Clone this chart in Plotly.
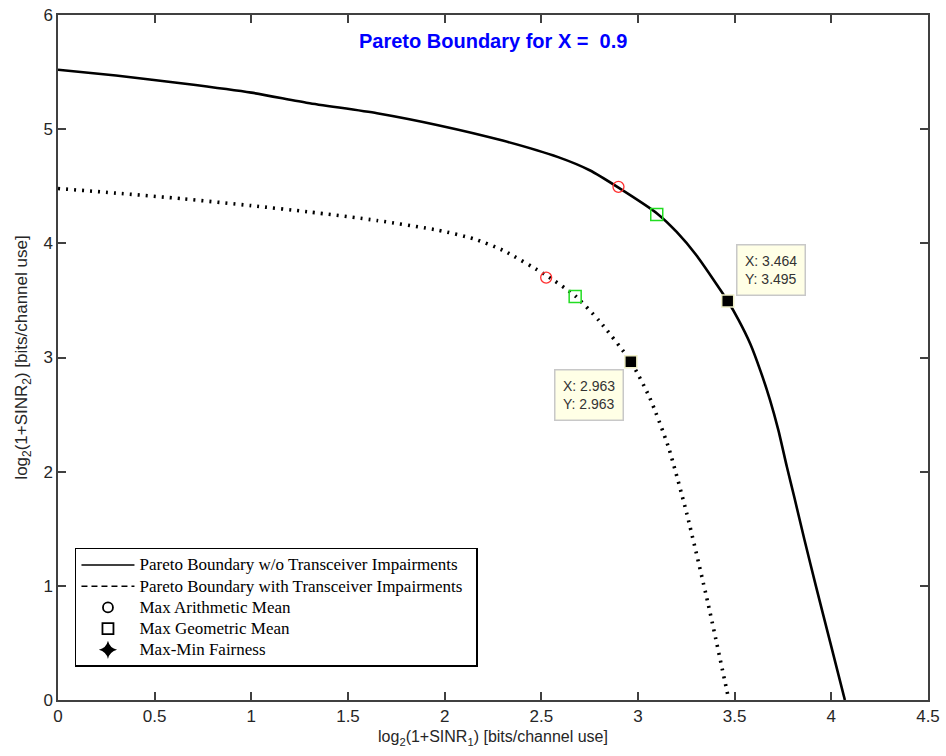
import plotly.graph_objects as go

# ---- data ----
ideal_x = [0.0, 0.3, 0.647, 1.0, 1.293, 1.65, 1.966, 2.3, 2.587, 2.75, 2.897, 3.10, 3.20, 3.30,
           3.464, 3.52, 3.58, 3.632, 3.683, 3.726, 3.77, 3.808, 3.86, 3.92, 3.995, 4.07]
ideal_y = [5.52, 5.47, 5.40, 5.32, 5.23, 5.14, 5.035, 4.90, 4.755, 4.64, 4.49, 4.26, 4.10, 3.90,
           3.495, 3.33, 3.123, 2.89, 2.627, 2.364, 2.043, 1.78, 1.41, 1.0, 0.5, 0.0]

impair_x = [0.0, 0.3, 0.647, 1.0, 1.293, 1.65, 1.966, 2.15, 2.3, 2.525, 2.675, 2.8, 2.963, 3.06,
            3.157, 3.252, 3.364, 3.47]
impair_y = [4.48, 4.44, 4.39, 4.33, 4.276, 4.20, 4.115, 4.04, 3.94, 3.72, 3.54, 3.32, 2.963, 2.65,
            2.218, 1.635, 0.832, 0.0]

arith_x = [2.899, 2.525]
arith_y = [4.495, 3.70]
geo_x = [3.097, 2.675]
geo_y = [4.253, 3.535]
maxmin_x = [3.464, 2.963]
maxmin_y = [3.495, 2.963]

legend_names = [
    "Pareto Boundary w/o Transceiver Impairments",
    "Pareto Boundary with Transceiver Impairments",
    "Max Arithmetic Mean",
    "Max Geometric Mean",
    "Max-Min Fairness",
]
title_text = "Pareto Boundary for X =  0.9"
x_ticks = [0, 0.5, 1, 1.5, 2, 2.5, 3, 3.5, 4, 4.5]
x_tick_text = ["0", "0.5", "1", "1.5", "2", "2.5", "3", "3.5", "4", "4.5"]
y_ticks = [0, 1, 2, 3, 4, 5, 6]

fig = go.Figure()

# curves
fig.add_trace(go.Scatter(x=ideal_x, y=ideal_y, mode="lines", showlegend=False,
                         line=dict(color="black", width=2.6, shape="spline", smoothing=0.6)))
fig.add_trace(go.Scatter(x=impair_x, y=impair_y, mode="lines", showlegend=False,
                         line=dict(color="black", width=3.6, dash="2px,6px", shape="spline", smoothing=0.6)))
# optimum points
fig.add_trace(go.Scatter(x=arith_x, y=arith_y, mode="markers", showlegend=False,
                         marker=dict(symbol="circle-open", size=11, color="#ff3030", line=dict(width=1.3))))
fig.add_trace(go.Scatter(x=geo_x, y=geo_y, mode="markers", showlegend=False,
                         marker=dict(symbol="square-open", size=12, color="#22dd22", line=dict(width=1.5))))
fig.add_trace(go.Scatter(x=maxmin_x, y=maxmin_y, mode="markers", showlegend=False,
                         marker=dict(symbol="square", size=12, color="black",
                                     line=dict(color="#f0f0c8", width=1.5))))

# legend entries
leg_styles = [
    dict(mode="lines", line=dict(color="black", width=1.5)),
    dict(mode="lines", line=dict(color="black", width=1.5, dash="6px,4px")),
    dict(mode="markers", marker=dict(symbol="circle-open", size=10, color="black", line=dict(width=1.8))),
    dict(mode="markers", marker=dict(symbol="square-open", size=11, color="black", line=dict(width=1.8))),
    dict(mode="markers", marker=dict(symbol="star-diamond", size=13, color="black")),
]
for name, st in zip(legend_names, leg_styles):
    fig.add_trace(go.Scatter(x=[None], y=[None],
                             name=f'<span style="font-size:17px">{name}&nbsp;&nbsp;</span>',
                             showlegend=True, **st))

# data tips
tip_font = dict(family="Liberation Sans, Arial", size=14, color="#333333")
fig.add_annotation(x=maxmin_x[0], y=maxmin_y[0], xref="x", yref="y",
                   text=f"X: {maxmin_x[0]:.3f}<br>Y: {maxmin_y[0]:.3f}",
                   showarrow=False, xanchor="left", yanchor="bottom", xshift=8, yshift=5,
                   align="left", bgcolor="#ffffe6", bordercolor="#c8c8c8", borderwidth=1.5,
                   borderpad=7.5, font=tip_font)
fig.add_annotation(x=maxmin_x[1], y=maxmin_y[1], xref="x", yref="y",
                   text=f"X: {maxmin_x[1]:.3f}<br>Y: {maxmin_y[1]:.3f}",
                   showarrow=False, xanchor="right", yanchor="top", xshift=-7, yshift=-7,
                   align="left", bgcolor="#ffffe6", bordercolor="#c8c8c8", borderwidth=1.5,
                   borderpad=7.5, font=tip_font)

# title inside the axes
fig.add_annotation(x=0.5, y=0.962, xref="paper", yref="paper", text=f"<b>{title_text}</b>",
                   showarrow=False, xanchor="center", yanchor="middle",
                   font=dict(family="Liberation Sans, Arial", size=20, color="#0000ff"))

axis_common = dict(showline=True, linecolor="#404040", linewidth=1.5, mirror="allticks",
                   ticks="inside", ticklen=8, tickwidth=1.5, tickcolor="#404040",
                   showgrid=False, zeroline=False, ticklabeloverflow="allow",
                   tickfont=dict(family="Liberation Sans, Arial", size=17, color="#262626"))

fig.update_xaxes(range=[0, 4.5], tickvals=x_ticks, ticktext=x_tick_text,
                 title=dict(text="log<sub>2</sub>(1+SINR<sub>1</sub>) [bits/channel use]",
                            font=dict(family="Liberation Sans, Arial", size=16, color="#262626"),
                            standoff=6),
                 **axis_common)
fig.update_yaxes(range=[0, 6], tickvals=y_ticks,
                 title=dict(text="log<sub>2</sub>(1+SINR<sub>2</sub>) [bits/channel use]",
                            font=dict(family="Liberation Sans, Arial", size=17, color="#262626"),
                            standoff=11),
                 **axis_common)

fig.update_layout(
    width=946, height=756,
    margin=dict(l=58, r=18, t=15, b=56, autoexpand=False),
    plot_bgcolor="white", paper_bgcolor="white",
    legend=dict(x=0.0195, y=0.222, xanchor="left", yanchor="top",
                bgcolor="white", bordercolor="black", borderwidth=1.5,
                font=dict(family="Liberation Serif, Times New Roman", size=14, color="black"),
                itemwidth=53, traceorder="normal", tracegroupgap=0),
)

# remove the default page margin so the 946x756 figure fills the window exactly
fig.write_html("out.html", config={"displayModeBar": False},
               post_script="document.body.style.margin='0';document.body.style.overflow='hidden';")
